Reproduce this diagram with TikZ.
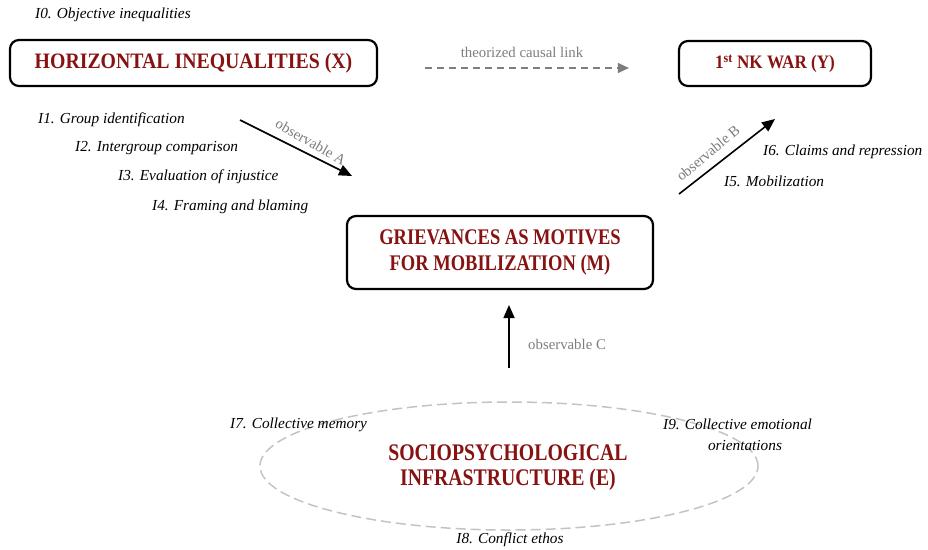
\documentclass[tikz,border=0pt]{standalone}
\usepackage{fontspec}
\setmainfont{Liberation Serif}
\newfontfamily\titlefont{Liberation Serif}[FakeStretch=0.9]
\newfontfamily\narrowtitlefont{Liberation Serif}[FakeStretch=0.83]
\usetikzlibrary{arrows.meta,shapes.geometric}
\definecolor{titlered}{RGB}{135,18,18}
\definecolor{notegray}{RGB}{125,125,125}
\definecolor{ringgray}{RGB}{195,195,195}
\tikzset{
  varbox/.style={draw=black, line width=2.2pt, rounded corners=9pt, text=titlered,
    align=center, inner sep=0pt},
  indicator/.style={font=\fontsize{15.3}{18}\selectfont\itshape, inner sep=0pt},
  obslabel/.style={text=notegray, font=\fontsize{14.8}{17}\selectfont, inner sep=0pt},
  obsarrow/.style={line width=1.6pt, -{Triangle[length=13pt,width=11pt]}},
}
\begin{document}
\begin{tikzpicture}[x=1pt,y=-1pt]
\useasboundingbox (0,0) rectangle (928,549);

% main variables
\node[varbox, minimum width=367pt, minimum height=46pt,
      font=\titlefont\fontsize{22}{25}\selectfont\bfseries] (X) at (193.5,63)
  {HORIZONTAL INEQUALITIES (X)};
\node[varbox, minimum width=192pt, minimum height=45pt,
      font=\titlefont\fontsize{19}{22}\selectfont\bfseries] (Y) at (775,63.5)
  {1\textsuperscript{st} NK WAR (Y)};
\node[varbox, minimum width=306pt, minimum height=73pt,
      font=\narrowtitlefont\fontsize{22.3}{25.5}\selectfont\bfseries] (M) at (500,252.5)
  {GRIEVANCES AS MOTIVES\\FOR MOBILIZATION (M)};

% dashed ring of the infrastructure and its title
\node[ellipse, draw=ringgray, line width=1.5pt, dash pattern=on 10pt off 5pt,
      minimum width=498pt, minimum height=128pt, inner sep=0pt] (E) at (509,466) {};
\node[text=titlered, align=center, inner sep=0pt,
      font=\narrowtitlefont\fontsize{23.8}{25}\selectfont\bfseries] (Et) at (508,468)
  {SOCIOPSYCHOLOGICAL\\INFRASTRUCTURE (E)};

% theorized link
\draw[notegray, line width=1.3pt, dash pattern=on 7pt off 5pt,
      -{Triangle[length=11pt,width=10pt]}, shorten <=47pt, shorten >=49pt]
  (X.east |- 0,68) -- (Y.west |- 0,68);
\node[obslabel] (tl) at (522,52) {theorized causal link};

% observable links
\coordinate (a1) at (240,120);
\coordinate (a2) at (352,176);
\coordinate (b1) at (679,194);
\coordinate (b2) at (775,119);
\coordinate (c1) at (509,368);
\coordinate (c2) at (509,305);
\draw[obsarrow] (a1) -- (a2);
\draw[obsarrow] (b1) -- (b2);
\draw[obsarrow] (c1) -- (c2);
\node[obslabel, rotate=-30] (la) at (311,142) {observable A};
\node[obslabel, rotate=40] (lb) at (708,153) {observable B};
\node[obslabel, anchor=west] (lc) at (528,344) {observable C};

% indicators
\node[indicator, anchor=west] (i0) at (35,15) {I0. Objective inequalities};
\node[indicator, anchor=west] (i1) at (38,120) {I1. Group identification};
\node[indicator, anchor=west] (i2) at (75,148) {I2. Intergroup comparison};
\node[indicator, anchor=west] (i3) at (118,177) {I3. Evaluation of injustice};
\node[indicator, anchor=west] (i4) at (152,207) {I4. Framing and blaming};
\node[indicator, anchor=west] (i6) at (763,152) {I6. Claims and repression};
\node[indicator, anchor=west] (i5) at (724,181) {I5. Mobilization};
\node[indicator, anchor=west] (i7) at (230,425) {I7. Collective memory};
\node[indicator, anchor=west] (i9) at (663,424) {I9. Collective emotional};
\node[indicator] (i9b) at (745,446) {orientations};
\node[indicator] (i8) at (510,540) {I8. Conflict ethos};
\end{tikzpicture}
\end{document}
